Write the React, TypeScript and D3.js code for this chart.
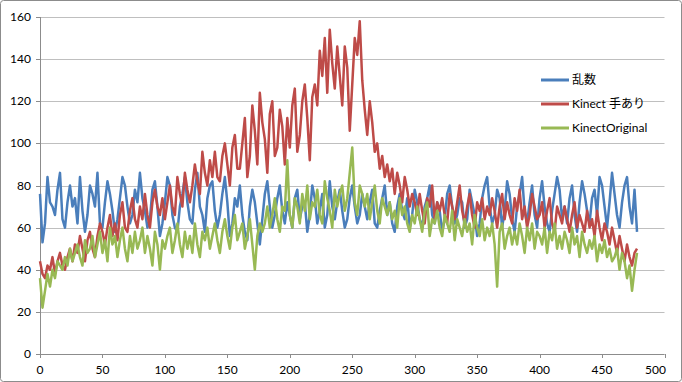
import React from "react";
import * as d3 from "d3";

const xStep = 2;
const xTicks = [0, 50, 100, 150, 200, 250, 300, 350, 400, 450, 500];
const yTicks = [0, 20, 40, 60, 80, 100, 120, 140, 160];
const seriesNames = ["乱数", "Kinect 手あり", "KinectOriginal"];
const seriesColors = ["#4A7EBB", "#BE4B48", "#98B954"];

const randomSeries = [
  76,53,62,84,72,70,66,78,86,64,
  60,72,80,70,74,62,84,68,58,66,
  80,76,70,86,62,60,72,82,76,68,
  58,64,74,84,80,70,62,66,78,72,
  86,74,68,60,64,78,82,70,56,62,
  72,84,80,66,60,58,70,76,84,72,
  64,62,78,86,70,66,58,74,80,82,
  68,60,66,76,84,72,56,62,74,70,
  80,66,58,54,70,78,72,62,52,64,
  76,82,70,60,66,74,80,68,62,72,
  66,60,74,78,64,70,72,58,66,80,
  74,62,68,76,60,66,82,70,64,72,
  78,68,60,64,74,80,70,62,66,76,
  70,64,72,78,62,60,68,74,80,66,
  72,62,58,70,76,68,64,74,60,66,
  78,72,64,60,70,74,80,66,62,72,
  68,58,64,76,80,70,62,66,74,72,
  60,64,78,72,66,56,62,74,80,84,
  70,62,66,78,74,60,68,82,76,64,
  58,70,76,84,68,62,72,80,66,60,
  74,82,70,62,58,68,76,84,78,64,
  70,62,74,80,66,58,72,82,76,68,
  62,74,78,66,84,80,70,60,72,86,
  76,66,60,72,80,84,70,62,78,58,
];

const kinectHand = [
  44,38,36,42,40,46,38,44,48,42,
  40,46,50,44,52,48,56,50,44,54,
  58,50,46,56,62,58,52,60,66,56,
  62,54,66,72,60,58,68,74,64,60,
  70,64,76,66,60,72,78,70,66,74,
  64,72,80,70,66,84,76,70,86,78,
  72,80,90,82,76,96,86,80,92,84,
  96,84,82,94,100,90,80,98,104,88,
  88,100,112,84,94,118,106,90,124,110,
  102,86,114,120,94,98,116,108,90,112,
  98,118,126,96,104,120,128,112,92,122,
  128,118,144,132,150,124,154,138,126,146,
  132,118,146,136,106,128,150,142,158,130,
  116,104,120,110,96,100,88,94,84,90,
  82,88,76,86,80,72,84,78,70,76,
  72,66,76,68,62,74,70,80,64,72,
  68,74,66,62,76,70,64,72,80,68,
  62,70,76,66,60,72,68,74,64,70,
  66,74,68,60,70,76,64,72,66,62,
  74,68,78,64,70,60,66,76,70,64,
  66,72,60,68,74,62,58,70,66,62,
  70,64,58,66,72,60,66,62,58,68,
  60,64,56,68,60,54,62,58,52,60,
  54,48,56,50,44,52,46,42,48,50,
];

const kinectOriginal = [
  36,22,30,38,32,40,36,44,42,40,
  46,42,50,44,48,52,46,42,54,48,
  50,56,46,52,58,48,54,44,60,52,
  56,46,54,60,50,44,56,48,58,50,
  54,60,48,56,50,42,58,52,40,54,
  50,56,60,48,54,62,52,46,58,50,
  56,48,62,52,46,58,54,60,50,56,
  62,54,48,58,64,56,50,60,66,54,
  58,62,50,56,64,52,40,56,62,58,
  62,70,60,66,74,64,58,70,68,92,
  66,60,74,70,62,76,68,80,64,72,
  70,78,66,62,82,74,68,60,78,70,
  76,80,68,74,86,98,72,66,80,76,
  70,76,64,72,80,68,62,74,70,66,
  72,64,68,60,74,66,70,62,58,66,
  62,70,64,58,68,72,56,64,62,68,
  60,56,66,62,58,68,54,64,60,56,
  64,58,62,52,66,60,56,64,54,60,
  56,62,52,32,58,62,50,56,60,52,
  58,52,62,56,48,60,54,62,50,58,
  56,52,60,48,58,54,62,50,56,50,
  58,54,48,60,52,56,46,58,52,48,
  54,50,56,44,52,48,54,46,50,44,
  46,50,40,48,44,36,42,30,40,48,
];

const allSeries = [randomSeries, kinectHand, kinectOriginal];

export default function App() {
  const W = 682, H = 382;
  const left = 40, right = 664.5, top = 17, bottom = 354;
  const x = d3.scaleLinear().domain([0, 500]).range([left, right]);
  const y = d3.scaleLinear().domain([0, 160]).range([bottom, top]);
  const line = d3
    .line<number>()
    .x((_, i) => x(i * xStep))
    .y((d) => y(d));
  const font = "Lato, 'Noto Sans CJK JP', sans-serif";
  return (
    <svg width={W} height={H} style={{ position: "absolute", left: 0, top: 0 }}>
      <rect x={0.5} y={0.5} width={W - 1} height={H - 1} rx={3} fill="#fff" stroke="#8c8c8c" />
      {yTicks.map((t) => (
        <g key={t}>
          <line x1={left} x2={right} y1={Math.round(y(t)) + 0.5} y2={Math.round(y(t)) + 0.5} stroke="#bfbfbf" />
          <line x1={left - 4} x2={left} y1={Math.round(y(t)) + 0.5} y2={Math.round(y(t)) + 0.5} stroke="#8c8c8c" />
          <text x={31} y={y(t) + 4} textAnchor="end" fontFamily={font} fontSize={12} fill="#000">
            {t}
          </text>
        </g>
      ))}
      <line x1={left + 0.5} x2={left + 0.5} y1={top} y2={bottom} stroke="#8c8c8c" />
      <line x1={left} x2={right} y1={Math.round(bottom) + 0.5} y2={Math.round(bottom) + 0.5} stroke="#8c8c8c" />
      {xTicks.map((t, i) => {
        const last = i === xTicks.length - 1;
        return (
          <g key={t}>
            <line x1={Math.round(x(t)) + 0.5} x2={Math.round(x(t)) + 0.5} y1={bottom} y2={bottom + 4} stroke="#8c8c8c" />
            <text
              x={last ? 666 : x(t)}
              y={374}
              textAnchor={last ? "end" : "middle"}
              fontFamily={font}
              fontSize={12}
              fill="#000"
            >
              {t}
            </text>
          </g>
        );
      })}
      {allSeries.map((s, i) => (
        <path key={i} d={line(s) || ""} fill="none" stroke={seriesColors[i]} strokeWidth={2.5} strokeLinejoin="round" />
      ))}
      {seriesNames.map((n, i) => (
        <g key={n}>
          <line x1={541} x2={569} y1={80 + i * 24} y2={80 + i * 24} stroke={seriesColors[i]} strokeWidth={3} />
          <text x={572} y={84 + i * 24} fontFamily={font} fontSize={12} fill="#000">
            {n}
          </text>
        </g>
      ))}
    </svg>
  );
}
